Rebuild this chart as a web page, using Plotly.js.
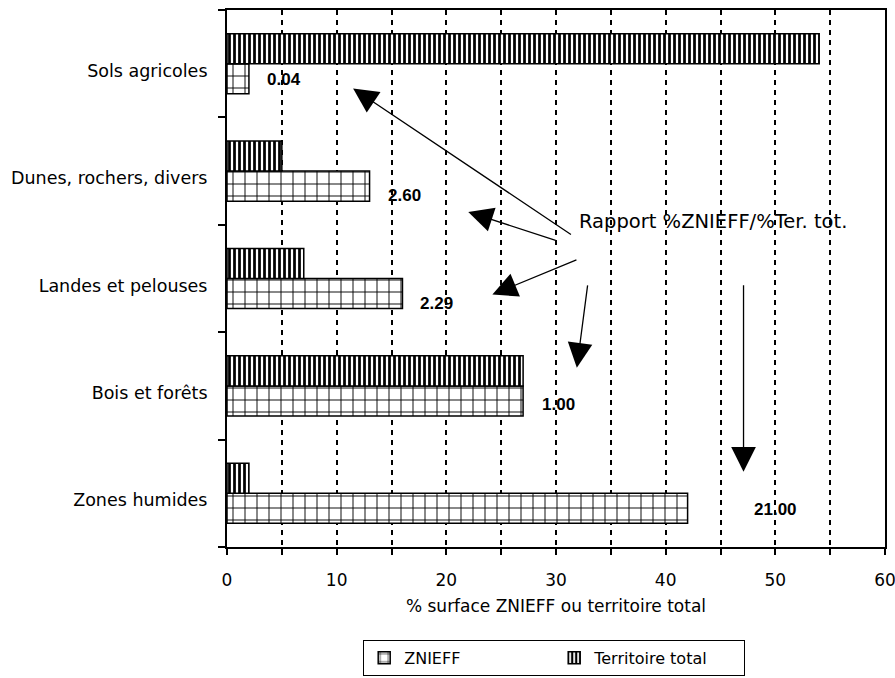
<!DOCTYPE html>
<html>
<head>
<meta charset="utf-8">
<script src="https://cdn.plot.ly/plotly-3.0.1.min.js"></script>
<style>html,body{margin:0;padding:0;background:#fff;}#chart{width:895px;height:678px;}</style>
</head>
<body>
<div id="chart"></div>
<script>
// Categories, bottom to top
const categories = ["Zones humides", "Bois et forêts", "Landes et pelouses", "Dunes, rochers, divers", "Sols agricoles"];
// % surface ZNIEFF
const znieff = [42, 27, 16, 13, 2];
// % territoire total
const territoire = [2, 27, 7, 5, 54];
// Ratio labels %ZNIEFF / %Ter. tot.
const ratioLabels = ["21.00", "1.00", "2.29", "2.60", "0.04"];
const xTickVals = [0, 5, 10, 15, 20, 25, 30, 35, 40, 45, 50, 55, 60];
const xTickText = ["0", "", "10", "", "20", "", "30", "", "40", "", "50", "", "60"];

// layout helpers (positions, not data)
const labelShiftX = [5.9, 1.5, 1.4, 1.5, 1.5];
const labelShiftY = [-0.15, -0.17, -0.23, -0.23, -0.15];
const arrows = [
  {hx: 11.5, hy: 3.77, tx: 31.5, ty: 2.40},
  {hx: 22.0, hy: 2.62, tx: 30.1, ty: 2.35},
  {hx: 24.2, hy: 1.85, tx: 32.0, ty: 2.18},
  {hx: 31.9, hy: 1.17, tx: 32.9, ty: 1.95},
  {hx: 47.1, hy: 0.20, tx: 47.1, ty: 1.95}
];

const FONT = "DejaVu Sans, Arial, sans-serif";

const traces = [
  {
    type: "bar", orientation: "h", name: "ZNIEFF",
    y: categories, x: znieff,
    marker: {
      color: "white",
      line: {color: "black", width: 1.5},
      pattern: {shape: "+", fgcolor: "black", bgcolor: "white", size: 12, solidity: 0.15, fgopacity: 1}
    },
    hoverinfo: "x+y"
  },
  {
    type: "bar", orientation: "h", name: "Territoire total",
    y: categories, x: territoire,
    marker: {
      color: "white",
      line: {color: "black", width: 1.5},
      pattern: {shape: "|", fgcolor: "black", bgcolor: "white", size: 5, solidity: 0.55, fgopacity: 1}
    },
    hoverinfo: "x+y"
  }
];

const annotations = [];
ratioLabels.forEach((t, i) => {
  annotations.push({
    x: znieff[i] + labelShiftX[i], y: i + labelShiftY[i], xref: "x", yref: "y",
    text: t, showarrow: false, xanchor: "left", yanchor: "middle",
    font: {family: "Liberation Sans, Arial, sans-serif", size: 17, color: "black", weight: "bold"}
  });
});
annotations.push({
  x: 31.9, y: 2.53, xref: "x", yref: "y",
  text: "Rapport %ZNIEFF/%Ter. tot.", showarrow: false,
  xanchor: "left", yanchor: "middle",
  font: {family: FONT, size: 19.5, color: "black"}
});
arrows.forEach(a => {
  annotations.push({
    x: a.hx, y: a.hy, ax: a.tx, ay: a.ty,
    xref: "x", yref: "y", axref: "x", ayref: "y",
    text: "", showarrow: true, arrowhead: 2, arrowsize: 3.8, arrowwidth: 1.3,
    arrowcolor: "black"
  });
});

const layout = {
  width: 895, height: 678,
  margin: {l: 227, r: 10, t: 10, b: 131, pad: 0, autoexpand: false},
  paper_bgcolor: "white", plot_bgcolor: "white",
  font: {family: FONT, size: 17, color: "black"},
  barmode: "group", bargap: 0.44, bargroupgap: 0,
  showlegend: true,
  legend: {
    orientation: "h", x: 0.207, y: -0.173, xanchor: "left", yanchor: "top",
    bordercolor: "black", borderwidth: 1, bgcolor: "white",
    font: {family: FONT, size: 16, color: "black"},
    entrywidth: 145, entrywidthmode: "pixels", traceorder: "normal"
  },
  xaxis: {
    range: [0, 60], tickmode: "array", tickvals: xTickVals, ticktext: xTickText,
    showgrid: true, gridcolor: "black", gridwidth: 2, griddash: "5px,5px",
    zeroline: false, showline: true, mirror: true, linecolor: "black", linewidth: 2,
    ticks: "outside", ticklen: 6, tickcolor: "black", tickwidth: 2,
    ticklabelstandoff: 11, ticklabeloverflow: "allow", automargin: false,
    tickfont: {family: FONT, size: 17, color: "black"},
    title: {text: "% surface ZNIEFF ou territoire total", font: {family: FONT, size: 17, color: "black"}, standoff: 11},
    fixedrange: true
  },
  yaxis: {
    type: "category", categoryorder: "array", categoryarray: categories,
    range: [-0.5, 4.5], tickson: "boundaries", automargin: false,
    showgrid: false, zeroline: false, showline: true, mirror: true,
    linecolor: "black", linewidth: 2,
    ticks: "outside", ticklen: 7, tickcolor: "black", tickwidth: 2,
    ticklabelstandoff: 14, ticklabelshift: 7,
    tickfont: {family: FONT, size: 17.5, color: "black"},
    fixedrange: true
  },
  annotations: annotations
};

Plotly.newPlot("chart", traces, layout, {displayModeBar: false, staticPlot: true});
</script>
</body>
</html>
